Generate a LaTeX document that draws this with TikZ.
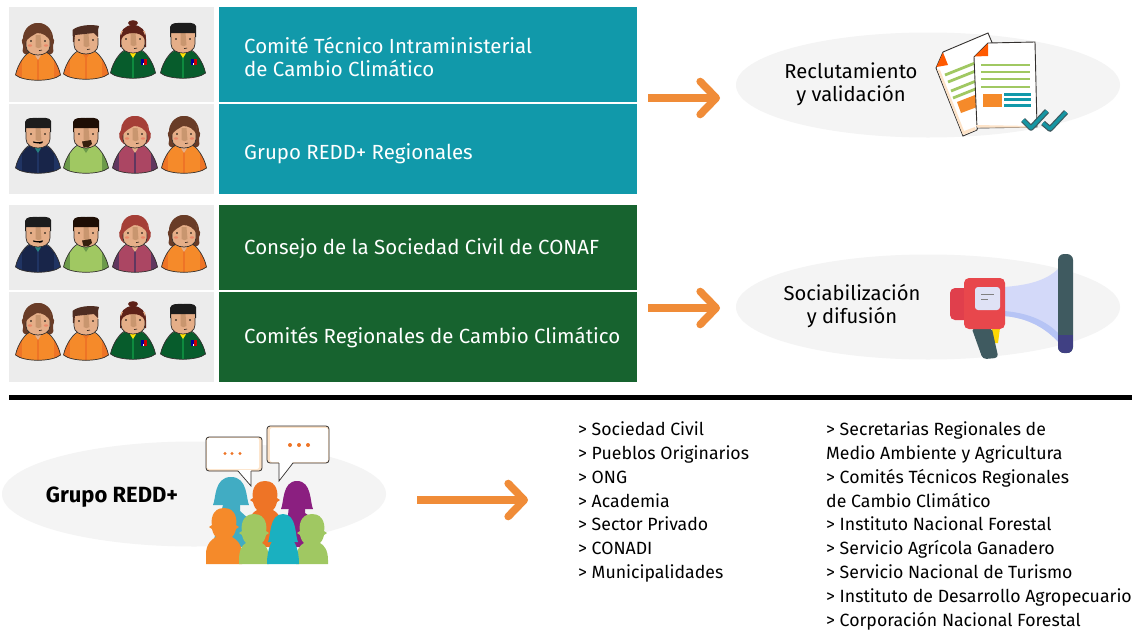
\documentclass[tikz,border=0pt]{standalone}
\usepackage{fontspec}
\setmainfont{Fira Sans}
\usetikzlibrary{arrows.meta,shapes.geometric}
\definecolor{teal1}{HTML}{1199AA}
\definecolor{green1}{HTML}{17632F}
\definecolor{panel}{HTML}{ECECEC}
\definecolor{ell}{HTML}{F4F4F4}
\definecolor{arrowo}{HTML}{F08C38}
\definecolor{skin}{HTML}{E5AE88}
\definecolor{nose}{HTML}{C9966F}
\definecolor{outl}{HTML}{33302E}
\definecolor{oMain}{HTML}{F58A2A}
\definecolor{oSide}{HTML}{EE7426}
\definecolor{gMain}{HTML}{075C2C}
\definecolor{gStripe}{HTML}{0E8A3E}
\definecolor{nMain}{HTML}{182549}
\definecolor{nSide}{HTML}{203463}
\definecolor{lMain}{HTML}{A0C862}
\definecolor{lSide}{HTML}{6C9A4A}
\definecolor{cMain}{HTML}{AB4663}
\definecolor{cSide}{HTML}{60375F}
\definecolor{brownH}{HTML}{693C27}
\definecolor{brownM}{HTML}{4F2D22}
\definecolor{redbr}{HTML}{5E2118}
\definecolor{blackH}{HTML}{1C1C1C}
\definecolor{darkH}{HTML}{1E0E05}
\definecolor{redH}{HTML}{A53F37}
\definecolor{slate}{HTML}{3F5A60}
\definecolor{peach}{HTML}{FDE3C8}
\definecolor{megared}{HTML}{E8474C}
\definecolor{megaback}{HTML}{E03F4C}
\definecolor{hornA}{HTML}{D3D9F9}
\definecolor{hornB}{HTML}{B6C4F5}
\definecolor{plate}{HTML}{DFE2F5}
\definecolor{cBlue}{HTML}{41ACC3}
\definecolor{cPurple}{HTML}{8B1F80}
\definecolor{cTeal}{HTML}{1AB0C0}
\tikzset{
  x=1pt,y=-1pt,
  panelbox/.style={fill=panel,draw=none,minimum width=205pt,inner sep=0pt,anchor=north west},
  bandbox/.style={draw=none,minimum width=418pt,inner sep=0pt,anchor=north west},
  bandtext/.style={anchor=west,inner sep=0pt,text=white,font=\fontsize{20.45}{23}\selectfont,align=left},
  ellipseshape/.style={fill=ell,draw=none},
  bigarrow/.style={draw=arrowo,line width=7.6pt,-{Straight Barb[length=16pt,width=33pt,line width=7.6pt,round=false]}},
  capt/.style={font=\fontsize{20.2}{22.8}\selectfont,align=center,text=black,inner sep=0pt},
  listtext/.style={font=\fontsize{17.7}{23.85}\selectfont,align=left,anchor=north west,inner sep=0pt,text=black},
}
\newcommand\pbody[4]{%
  \fill[#1] (-22.5,-8) .. controls (-20,-20) and (-12,-30) .. (-5,-32) -- (5,-32) .. controls (12,-30) and (20,-20) .. (22.5,-8) .. controls (14,-1) and (-14,-1) .. (-22.5,-8) -- cycle;
  \begin{scope}
    \clip (-22.5,-8) .. controls (-20,-20) and (-12,-30) .. (-5,-32) -- (5,-32) .. controls (12,-30) and (20,-20) .. (22.5,-8) .. controls (14,-1) and (-14,-1) .. (-22.5,-8) -- cycle;
    \fill[#2] (-24,-32) rectangle (-16,0);
    \fill[#2] (16,-32) rectangle (24,0);
    \fill[#3] (-1,-26) rectangle (1,0);
    \fill[#4] (-7,-34) -- (7,-34) -- (0,-23) -- cycle;
  \end{scope}
  \draw[outl,line width=.7pt] (-22.5,-8) .. controls (-20,-20) and (-12,-30) .. (-7,-31.5) (7,-31.5) .. controls (12,-30) and (20,-20) .. (22.5,-8) .. controls (14,-1) and (-14,-1) .. (-22.5,-8);
}
\newcommand\phead{%
  \fill[skin] (-12,-50) -- (12,-50) -- (12,-37) .. controls (12,-31) and (6,-28) .. (0,-28) .. controls (-6,-28) and (-12,-31) .. (-12,-37) -- cycle;
  \draw[outl,line width=.7pt] (-12,-44) -- (-12,-37) .. controls (-12,-31) and (-6,-28) .. (0,-28) .. controls (6,-28) and (12,-31) .. (12,-37) -- (12,-44);
  \fill[nose] (-2.5,-48) -- (2.5,-48) -- (3.5,-36) .. controls (2,-34.5) and (-1,-34.5) .. (-2.5,-36) -- cycle;
  \fill[black] (-7,-42) circle (.8) (7,-42) circle (.8);
  \draw[black,line width=.5pt] (1,-32.5) -- (4,-33);
}
\newcommand\pblush{\fill[red!22!skin] (-8,-37.5) ellipse (2.2 and 1.2) (8,-37.5) ellipse (2.2 and 1.2);}
\newcommand\pflag{%
  \fill[blue!60!black] (7.5,-22.5) rectangle (10.5,-16.5);
  \fill[red!80!black] (10.5,-22.5) rectangle (13.5,-16.5);
  \fill[white] (9.5,-18) rectangle (11,-16.5);
}
\newcommand\pmanshort[1]{%
  \fill[#1] (-13,-44) -- (-13,-54) .. controls (-12,-59) and (-5,-58) .. (0,-58) .. controls (5,-58) and (12,-59) .. (13,-55) -- (13,-44) -- (12,-44) -- (12,-48) -- (-12,-48) -- (-12,-44) -- cycle;
}
\newcommand\womanOrange[2]{\begin{scope}[shift={(#1,#2)}]
  \fill[brownH] (0,-60) .. controls (-11,-60) and (-15,-50) .. (-15,-45) .. controls (-18,-42) and (-14,-38) .. (-15,-35) .. controls (-17,-31) and (-13,-27) .. (-9,-29) -- (9,-29) .. controls (13,-27) and (17,-31) .. (15,-35) .. controls (14,-38) and (18,-42) .. (15,-45) .. controls (15,-50) and (11,-60) .. (0,-60) -- cycle;
  \pbody{oMain}{oSide}{oSide}{skin}\phead\pblush
  \fill[brownH] (-13,-40) .. controls (-13,-54) and (-8,-60) .. (0,-60) .. controls (8,-60) and (13,-54) .. (13,-40) .. controls (10,-48) and (4,-50) .. (-1,-50) .. controls (-4,-48) and (-10,-46) .. (-13,-40) -- cycle;
\end{scope}}
\newcommand\manOrange[2]{\begin{scope}[shift={(#1,#2)}]
  \pbody{oMain}{oSide}{oSide}{oSide}\phead
  \fill[brownM] (-13,-40) -- (-13.5,-52) .. controls (-8,-57) and (6,-58) .. (13,-56) -- (12,-52) -- (12,-45) -- (8,-49) -- (-11,-47) -- (-12,-40) -- cycle;
\end{scope}}
\newcommand\womanGreen[2]{\begin{scope}[shift={(#1,#2)}]
  \fill[redbr] (0,-58) ellipse (5 and 2.8);
  \fill[redbr] (0,-56) .. controls (-8,-56) and (-13.5,-50) .. (-13,-42) -- (-13,-34) -- (13,-34) -- (13,-42) .. controls (13.5,-50) and (8,-56) .. (0,-56) -- cycle;
  \pbody{gMain}{gMain}{gStripe}{yellow!85!orange}\phead\pflag
  \fill[redbr] (-13,-38) .. controls (-13,-50) and (-6,-56) .. (0,-56) .. controls (6,-56) and (13,-50) .. (13,-38) -- (11.5,-42) .. controls (10,-46) and (5,-48) .. (0,-48) .. controls (-5,-48) and (-10,-46) .. (-11.5,-42) -- cycle;
\end{scope}}
\newcommand\manGreen[2]{\begin{scope}[shift={(#1,#2)}]
  \pbody{gMain}{gMain}{gStripe}{yellow!85!orange}\phead\pflag
  \pmanshort{blackH}
\end{scope}}
\newcommand\manNavy[2]{\begin{scope}[shift={(#1,#2)}]
  \pbody{nMain}{nSide}{nSide}{teal!70!gray}\phead
  \pmanshort{blackH}
  \draw[black,line width=1.2pt,line cap=round] (-4.5,-34) .. controls (-2,-33) and (2,-33) .. (4.5,-34);
\end{scope}}
\newcommand\manBeard[2]{\begin{scope}[shift={(#1,#2)}]
  \pbody{lMain}{lSide}{lMain}{lSide}\phead
  \pmanshort{darkH}
  \fill[darkH!85!brown] (-4,-34.5) -- (5,-36) -- (6,-32) -- (2.5,-29) -- (-2.5,-29) -- cycle;
\end{scope}}
\newcommand\womanRed[2]{\begin{scope}[shift={(#1,#2)}]
  \fill[redH] (0,-60) .. controls (-10,-60) and (-14,-52) .. (-14,-46) .. controls (-18,-42) and (-15,-34) .. (-11,-32) -- (11,-32) .. controls (15,-34) and (18,-42) .. (14,-46) .. controls (14,-52) and (10,-60) .. (0,-60) -- cycle;
  \pbody{cMain}{cSide}{cSide}{skin}\phead\pblush
  \fill[redH] (-13,-40) .. controls (-13,-54) and (-8,-60) .. (0,-60) .. controls (8,-60) and (13,-54) .. (13,-40) .. controls (10,-48) and (4,-50) .. (-1,-50) .. controls (-4,-48) and (-10,-46) .. (-13,-40) -- cycle;
\end{scope}}
\newcommand\crowdA[4]{%
  \fill[#3] (#1,#2+28) -- ({#1-#4},#2+28) .. controls ({#1-#4+3},#2+22) and ({#1-#4+1},#2) .. (#1,#2) .. controls ({#1+#4-1},#2) and ({#1+#4-3},#2+22) .. ({#1+#4},#2+28) -- cycle;
}
\newcommand\crowdB[5]{%
  \fill[#4] (#1,#2) .. controls (#1-13,#2) and (#1-13,#2+14) .. (#1-12,#2+17) -- (#1-15,#2+19) -- (#1-12,#2+21) .. controls (#1-11,#2+26) and (#1-9,#2+28) .. (#1-8,#2+29) .. controls (#1-12,#2+31) and ({#1-#5},#2+36) .. ({#1-#5},#2+46) -- ({#1-#5},#3) -- ({#1+#5},#3) -- ({#1+#5},#2+46) .. controls ({#1+#5},#2+36) and (#1+12,#2+31) .. (#1+8,#2+29) .. controls (#1+9,#2+28) and (#1+11,#2+26) .. (#1+12,#2+21) -- (#1+15,#2+19) -- (#1+12,#2+17) .. controls (#1+13,#2+14) and (#1+13,#2) .. (#1,#2) -- cycle;
}
\begin{document}
\begin{tikzpicture}
\useasboundingbox (0,0) rectangle (1136,630);
\fill[white] (0,0) rectangle (1136,630);
\node[panelbox,minimum height=95pt] (p1) at (9,7) {};
\node[panelbox,minimum height=90pt] (p2) at (9,104) {};
\node[panelbox,minimum height=85pt] (p3) at (9,205) {};
\node[panelbox,minimum height=90pt] (p4) at (9,292) {};
\node[bandbox,fill=teal1,minimum height=95pt] (b1) at (219,7) {};
\node[bandbox,fill=teal1,minimum height=90pt] (b2) at (219,104) {};
\node[bandbox,fill=green1,minimum height=85pt] (b3) at (219,205) {};
\node[bandbox,fill=green1,minimum height=90pt] (b4) at (219,292) {};
\node[bandtext] (t1) at (244,57) {Comité Técnico Intraministerial\\de Cambio Climático};
\node[bandtext] (t2) at (244,154) {Grupo REDD+ Regionales};
\node[bandtext] (t3) at (244,249) {Consejo de la Sociedad Civil de CONAF};
\node[bandtext] (t4) at (244,337) {Comités Regionales de Cambio Climático};
\womanOrange{38}{83}\manOrange{86}{82}\womanGreen{133}{81}\manGreen{183}{81}
\manNavy{38}{176}\manBeard{86}{176}\womanRed{135}{176}\womanOrange{184}{176}
\manNavy{38}{275}\manBeard{86}{275}\womanRed{135}{275}\womanOrange{184}{275}
\womanOrange{38}{363}\manOrange{86}{363}\womanGreen{133}{362}\manGreen{183}{362}
\node[ellipseshape,shape=ellipse,minimum width=384pt,minimum height=105pt,inner sep=0pt] (e1) at (928,85) {};
\node[ellipseshape,shape=ellipse,minimum width=384pt,minimum height=105pt,inner sep=0pt] (e2) at (928,307) {};
\node[ellipseshape,shape=ellipse,minimum width=384pt,minimum height=105pt,inner sep=0pt] (e3) at (194,494) {};
\node[capt] (c1) at (851,84) {Reclutamiento\\y validación};
\node[capt] (c2) at (852,306) {Sociabilización\\y difusión};
\node[capt,font=\fontsize{22}{24}\selectfont\bfseries] (c3) at (112,497) {Grupo REDD+};
\coordinate (a1s) at (648,98); \coordinate (a1e) at (720,98);
\coordinate (a2s) at (648,308); \coordinate (a2e) at (720,308);
\coordinate (a3s) at (417,500); \coordinate (a3e) at (528,500);
\draw[bigarrow] (a1s) -- (a1e);
\draw[bigarrow] (a2s) -- (a2e);
\draw[bigarrow] (a3s) -- (a3e);
\coordinate (r1) at (9,397); \coordinate (r2) at (1132,397);
\draw[black,line width=5pt] (r1) -- (r2);
\node[listtext] (l1) at (578,421.5) {> Sociedad Civil\\> Pueblos Originarios\\> ONG\\> Academia\\> Sector Privado\\> CONADI\\> Municipalidades};
\node[listtext] (l2) at (826,421.5) {> Secretarias Regionales de\\Medio Ambiente y Agricultura\\> Comités Técnicos Regionales\\de Cambio Climático\\> Instituto Nacional Forestal\\> Servicio Agrícola Ganadero\\> Servicio Nacional de Turismo\\> Instituto de Desarrollo Agropecuario\\> Corporación Nacional Forestal};
\draw[outl,fill=white,line width=.9pt] (936,68) -- (943,52) -- (988,33) -- (996,52) -- (977,130) -- (963,136) -- cycle;
\fill[peach] (937,69) -- (963,135) -- (976,130) -- (975,127) -- (964,131) -- (940,70) -- cycle;
\fill[orange!70!red] (936.5,67) -- (943,52.5) -- (948,65) -- cycle;
\foreach \yy/\xs in {0/945,7/948,16/951,23/953} {
  \draw[lMain,line width=2.8pt] (\xs,75+\yy) -- (\xs+30,63+\yy);
}
\fill[oMain] (957,102) -- (975,95) -- (977,107) -- (961,113) -- cycle;
\draw[outl,fill=white,line width=.9pt] (974,57) -- (988,43) -- (1035,42) -- (1037,127) -- (977,128) -- cycle;
\fill[peach] (975.5,125) -- (1032,126) -- (1032,127.5) -- (977.5,127.5) -- cycle;
\fill[orange!70!red] (974.5,56.5) -- (988,43.5) -- (988,56) -- cycle;
\foreach \yy in {65,72,79,87} { \fill[lMain] (981,\yy-1.4) rectangle (1030,\yy+1.4); }
\fill[oMain] (983,94) rectangle (1002,107);
\foreach \yy in {94,99,105} { \fill[teal1] (1004,\yy-1.5) rectangle (1031,\yy+1.5); }
\draw[slate,line width=5.6pt,line join=round] (1023,120) -- (1031,128) -- (1047,111);
\draw[slate,line width=5.6pt,line join=round] (1043,123) -- (1050,129) -- (1066,112);
\draw[cTeal!85!black,line width=3.2pt,line join=round] (1023,120) -- (1031,128) -- (1047,111);
\draw[cTeal!85!black,line width=3.2pt,line join=round] (1043,123) -- (1050,129) -- (1066,112);
\fill[hornA] (1004,287) .. controls (1030,285) and (1048,280) .. (1060,267) -- (1060,344) .. controls (1048,330) and (1030,318) .. (1004,316) -- cycle;
\fill[hornB] (1004,316) .. controls (1030,318) and (1048,330) .. (1060,344) -- (1060,335) .. controls (1048,322) and (1030,313) .. (1004,311) -- cycle;
\fill[yellow!75!orange] (992,328) -- (1000,328) -- (998,343) -- (992,343) -- cycle;
\fill[slate,rounded corners=1.5pt] (972,329) -- (992,329) -- (998,356) -- (996,358) -- (985,359) -- (982,357) -- cycle;
\fill[megaback,rounded corners=5pt] (950,288) rectangle (975,320);
\fill[megared,rounded corners=5pt] (964,278) rectangle (1005,329);
\fill[plate,rounded corners=3pt] (975,287) rectangle (1000,310);
\draw[gray,line width=1pt] (981,294) -- (994,294) (981,299) -- (988,299);
\fill[slate,rounded corners=6pt] (1058,254) rectangle (1073,353);
\begin{scope}
  \clip[rounded corners=6pt] (1058,254) rectangle (1073,353);
  \fill[blue!35!black!75] (1058,335) rectangle (1073,353);
\end{scope}
\draw[outl,fill=peach,line width=.8pt,rounded corners=3pt] (206,437) rectangle (262,471);
\fill[white,rounded corners=2pt] (207,438) rectangle (259,469);
\fill[white] (238,470) -- (251,470) -- (251,486) -- cycle;
\draw[outl,line width=.7pt] (238,471) -- (251,486) -- (251,471);
\fill[oSide] (225,453.5) circle (1.7) (232,453.5) circle (1.7) (240,453.5) circle (1.7);
\draw[outl,fill=peach,line width=.8pt,rounded corners=3pt] (267,426) rectangle (329,463);
\fill[white,rounded corners=2pt] (270,428) rectangle (328,462);
\fill[white] (279,462) -- (293,462) -- (279,481) -- cycle;
\draw[outl,line width=.7pt] (279,463) -- (279,481) -- (293,463);
\fill[oSide] (290,445) circle (2) (299,445) circle (2) (308,445) circle (2);
\crowdA{297}{481}{cPurple}{16}
\fill[cPurple] (289,505) -- (305,505) -- (305,513) -- (315,520) -- (312,547) -- (285,547) -- cycle;
\crowdA{231}{477}{cBlue}{18}
\fill[cBlue] (223,505) -- (240,505) -- (240,511) -- (250,520) -- (252,547) -- (212,547) -- cycle;
\crowdB{265}{481}{547}{oSide}{17}
\crowdB{224}{508}{564}{oMain}{18}
\crowdB{254}{514}{564}{lMain}{15}
\crowdB{312}{514}{564}{lMain}{16}
\crowdA{283}{514}{cTeal}{15}
\fill[cTeal] (283,535) .. controls (272,535) and (267,548) .. (267,564) -- (299,564) .. controls (299,548) and (294,535) .. (283,535) -- cycle;
\fill[cTeal] (275,530) rectangle (291,540);
\end{tikzpicture}
\end{document}
